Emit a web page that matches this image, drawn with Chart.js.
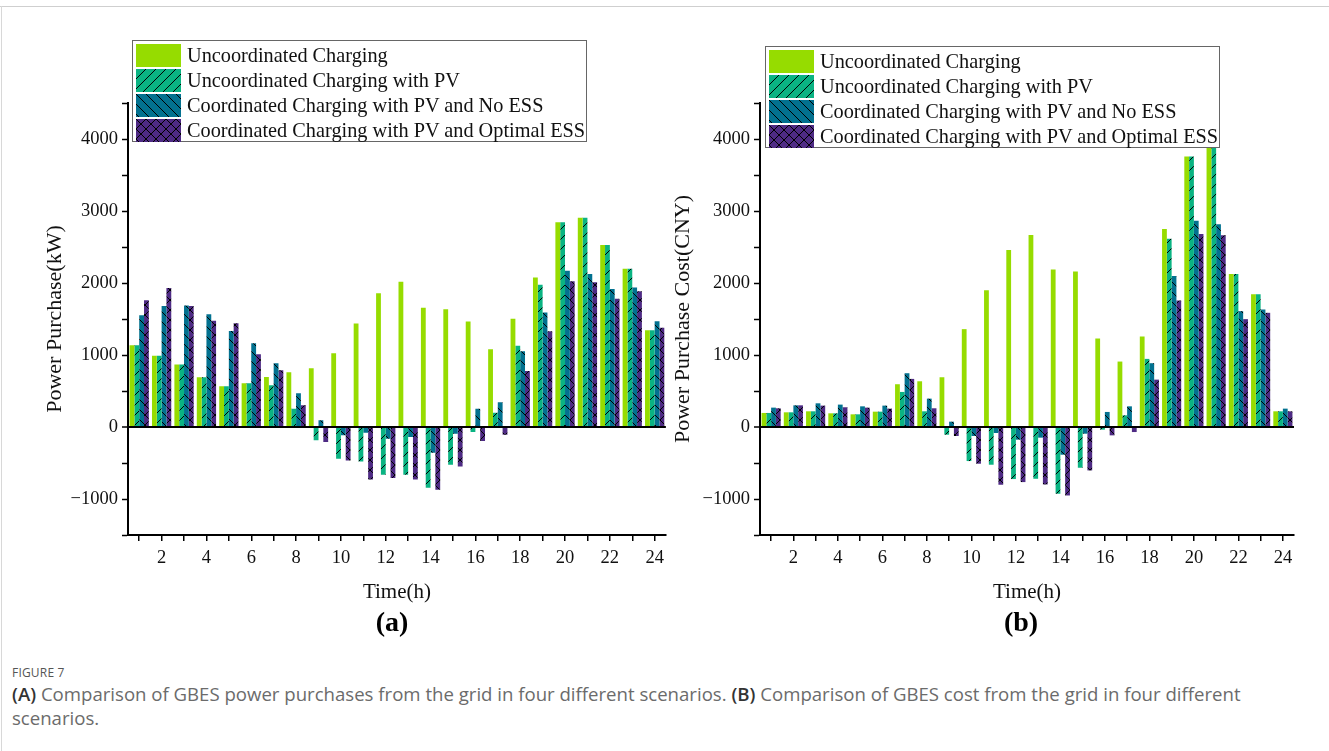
<!DOCTYPE html>
<html>
<head>
<meta charset="utf-8">
<script src="https://cdn.jsdelivr.net/npm/chart.js@4.4.1/dist/chart.umd.min.js"></script>
<style>
html,body{margin:0;padding:0;background:#fff;}
#wrap{position:relative;width:1329px;height:751px;overflow:hidden;background:#fff;}
#wrap:before{content:'';position:absolute;left:0;top:6px;width:1329px;height:1px;background:#cfcfcf;}
#wrap:after{content:'';position:absolute;left:1px;top:6px;width:1px;height:745px;background:#d8d8d8;}
canvas.ch{position:absolute;top:0;}
.lg{position:absolute;border:1px solid #666;background:#fff;width:455px;height:102px;box-sizing:border-box;padding:2px 0 0 3px;}
.lg div{height:25px;display:flex;align-items:center;font:20.3px "Liberation Serif",serif;color:#111;white-space:nowrap;}
.lg canvas{width:45px;height:23px;margin-right:6px;display:block;}
.sub{position:absolute;top:606px;font:bold 28px "Liberation Serif",serif;color:#000;width:100px;text-align:center;}
#cap{position:absolute;left:12px;top:664px;width:1250px;font-family:"Open Sans",sans-serif;color:#6b6b6b;}
#cap .fig{font-size:12px;letter-spacing:0.2px;line-height:18px;color:#555;}
#cap .txt{font-size:18.6px;line-height:24px;}
#cap b{color:#333;font-weight:600;}
</style>
</head>
<body>
<div id="wrap">
  <canvas id="ca" class="ch" width="670" height="650" style="left:0;width:670px;height:650px"></canvas>
  <canvas id="cb" class="ch" width="659" height="650" style="left:670px;width:659px;height:650px"></canvas>
  <div class="lg" id="lga" style="left:132px;top:40px"></div>
  <div class="lg" id="lgb" style="left:765px;top:46px"></div>
  <div class="sub" style="left:342px">(a)</div>
  <div class="sub" style="left:971px">(b)</div>
  <div id="cap">
    <div class="fig">FIGURE 7</div>
    <div class="txt"><b>(A)</b> Comparison of GBES power purchases from the grid in four different scenarios. <b>(B)</b> Comparison of GBES cost from the grid in four different scenarios.</div>
  </div>
</div>
<script>
// hours on the x axis
const hours=[1,2,3,4,5,6,7,8,9,10,11,12,13,14,15,16,17,18,19,20,21,22,23,24];
const seriesNames=['Uncoordinated Charging','Uncoordinated Charging with PV','Coordinated Charging with PV and No ESS','Coordinated Charging with PV and Optimal ESS'];

// (a) power purchase, kW
const powUncoord=[1136,988,867,691,566,607,696,760,816,1025,1437,1859,2017,1655,1637,1465,1080,1502,2077,2843,2907,2527,2198,1345];
const powUncoordPV=[1136,988,867,691,566,607,580,255,-185,-440,-478,-663,-663,-844,-524,-70,199,1127,1975,2843,2907,2527,2198,1345];
const powCoordNoESS=[1553,1679,1688,1567,1335,1164,886,468,93,-116,-79,-162,-139,-357,-93,255,343,1053,1590,2170,2124,1915,1938,1470];
const powCoordESS=[1762,1929,1679,1475,1442,1011,788,301,-209,-464,-728,-709,-728,-872,-547,-195,-107,779,1331,2026,2012,1781,1887,1377];

// (b) power purchase cost, CNY
const costUncoord=[195,204,218,190,176,213,594,635,691,1359,1901,2458,2666,2189,2161,1229,909,1257,2750,3756,3950,2124,1845,218];
const costUncoordPV=[195,204,218,190,176,213,487,218,-107,-473,-524,-723,-719,-927,-566,-37,162,946,2615,3756,3950,2124,1845,218];
const costCoordNoESS=[269,301,329,311,287,297,747,394,74,-125,-83,-176,-148,-385,-93,209,287,886,2096,2866,2815,1609,1632,255];
const costCoordESS=[260,301,297,274,269,255,668,260,-125,-510,-802,-765,-798,-951,-603,-116,-70,658,1757,2680,2662,1498,1586,218];

const yTicksMin=-1500, yTicksMax=4500;

const COLORS=['#96dc00','#0ab382','#02718f','#4e2a84'];
const HATCH=['','/','\\','x'];
const SERIF='"Liberation Serif", "Times New Roman", serif';

function hatch(color,kind){
  const s=10,c=document.createElement('canvas');c.width=c.height=s;
  const g=c.getContext('2d');
  g.fillStyle=color;g.fillRect(0,0,s,s);
  g.strokeStyle='#000';g.lineWidth=1;
  g.beginPath();
  if(kind==='/'||kind==='x'){g.moveTo(0,s);g.lineTo(s,0);g.moveTo(-1,1);g.lineTo(1,-1);g.moveTo(s-1,s+1);g.lineTo(s+1,s-1);}
  if(kind==='\\'||kind==='x'){g.moveTo(0,0);g.lineTo(s,s);g.moveTo(s-1,-1);g.lineTo(s+1,1);g.moveTo(-1,s-1);g.lineTo(1,s+1);}
  if(kind)g.stroke();
  return g.createPattern(c,'repeat');
}
const fills=COLORS.map((c,i)=>HATCH[i]?hatch(c,HATCH[i]):c);

function fmt(v){return v<0?'\u2212'+Math.abs(v):''+v;}

function makeChart(id,yTitle,data,yWidth,padRight,titlePad){
  const sets=data.map((d,i)=>({label:seriesNames[i],data:d,backgroundColor:fills[i],borderWidth:0,categoryPercentage:0.86,barPercentage:1}));
  return new Chart(document.getElementById(id),{
    type:'bar',
    data:{labels:hours,datasets:sets},
    options:{
      responsive:false,animation:false,
      layout:{padding:{top:103,right:padRight,left:0,bottom:0}},
      plugins:{legend:{display:false},tooltip:{enabled:false}},
      scales:{
        x:{
          grid:{drawOnChartArea:false,offset:false,tickLength:6,color:'#000',lineWidth:1.5},
          border:{color:'#000',width:2},
          ticks:{autoSkip:false,maxRotation:0,padding:6,color:'#111',font:{family:SERIF,size:18.5},
            callback:function(v,i){return (i+1)%2===0?this.getLabelForValue(v):'';}},
          title:{display:true,text:'Time(h)',color:'#111',font:{family:SERIF,size:21},padding:{top:0,bottom:45}},
          afterFit:s=>{s.height=115;}
        },
        y:{
          min:yTicksMin,max:yTicksMax,z:1,
          grid:{drawOnChartArea:true,tickLength:6,tickColor:'#000',tickWidth:1.5,
            color:c=>c.tick&&c.tick.value===0?'#000':'rgba(0,0,0,0)',
            lineWidth:c=>c.tick&&c.tick.value===0?2:1},
          border:{color:'#000',width:2},
          ticks:{stepSize:500,padding:4,color:'#111',font:{family:SERIF,size:18.5},
            callback:v=>v%1000===0?fmt(v):''},
          title:{display:true,text:yTitle,color:'#111',font:{family:SERIF,size:22},padding:{top:titlePad,bottom:0}},
          afterFit:s=>{s.width=yWidth;}
        }
      }
    }
  });
}

makeChart('ca','Power Purchase(kW)',[powUncoord,powUncoordPV,powCoordNoESS,powCoordESS],128,4,42);
makeChart('cb','Power Purchase Cost(CNY)',[costUncoord,costUncoordPV,costCoordNoESS,costCoordESS],90,35,0);

// legends drawn as html with the same fills
['lga','lgb'].forEach(id=>{
  const box=document.getElementById(id);
  seriesNames.forEach((n,i)=>{
    const row=document.createElement('div');
    const sw=document.createElement('canvas');sw.width=45;sw.height=23;
    const g=sw.getContext('2d');g.fillStyle=fills[i];g.fillRect(0,0,45,23);
    row.appendChild(sw);
    const t=document.createElement('span');t.textContent=n;row.appendChild(t);
    box.appendChild(row);
  });
});
</script>
</body>
</html>
